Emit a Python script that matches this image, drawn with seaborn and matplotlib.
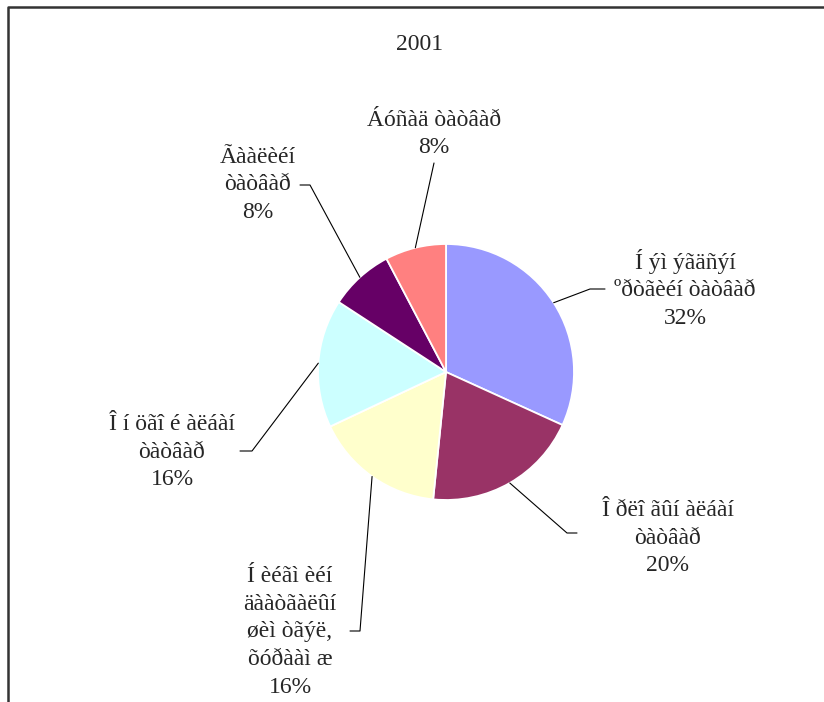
import numpy as np
import matplotlib
matplotlib.use("Agg")
import matplotlib.pyplot as plt
import seaborn as sns

# Data (text kept exactly as it appears on the chart)
categories = [
    "Í ýì ýãäñýí\nºðòãèéí òàòâàð",
    "Î ðëî ãûí àëáàí\nòàòâàð",
    "Í èéãì èéí\näààòãàëûí\nøèì òãýë,\nõóðààì æ",
    "Î í öãî é àëáàí\nòàòâàð",
    "Ãààëèéí\nòàòâàð",
    "Áóñàä òàòâàð",
]
shares = [31.8, 19.8, 16.4, 16.2, 8.1, 7.7]
colors = ["#9999FF", "#993366", "#FFFFCC", "#CCFFFF", "#660066", "#FF8080"]
title = "2001"

# label layout in pixel coordinates (x from left, y from top)
label_pos = [(685, 289), (668, 538), (290, 632), (172, 452), (258, 185), (434, 134)]
elbow_pos = [(590, 289), (567, 533), (360, 631), (252, 451), (310, 185), (434, 163)]
line_end = [(605, 289), (577, 533), (350, 631), (240, 451), (300, 185), (434, 163)]

W, H = 824, 702
cx, cy, R = 446, 372, 128

sns.set_style("white")
plt.rcParams["font.family"] = ["Liberation Serif", "DejaVu Serif"]

fig = plt.figure(figsize=(W / 100, H / 100), dpi=100)
ax = fig.add_axes([0, 0, 1, 1])

def py(y):
    return H - y

wedges, _ = ax.pie(shares, colors=colors, startangle=90, counterclock=False,
                   center=(cx, py(cy)), radius=R, frame=True,
                   wedgeprops=dict(edgecolor="white", linewidth=1.3))
ax.set_xlim(0, W)
ax.set_ylim(0, H)
ax.set_aspect("equal")
ax.axis("off")

for w, cat, val, lp, ep, le in zip(wedges, categories, shares, label_pos, elbow_pos, line_end):
    mid = np.deg2rad((w.theta1 + w.theta2) / 2)
    sx, sy = cx + R * np.cos(mid), py(cy) + R * np.sin(mid)
    ax.plot([sx, ep[0], le[0]], [sy, py(ep[1]), py(le[1])], color="black", lw=0.8)
    ax.text(lp[0], py(lp[1]), f"{cat}\n{round(val):.0f}%", ha="center", va="center",
            multialignment="center", fontsize=17, linespacing=1.42)

ax.text(420, py(44), title, ha="center", va="center", fontsize=17)

# outer frame
ax.plot([8, 8, W + 5], [-5, py(7), py(7)], color="#333333", lw=1.8, clip_on=False)

fig.savefig("out.png", dpi=100)
